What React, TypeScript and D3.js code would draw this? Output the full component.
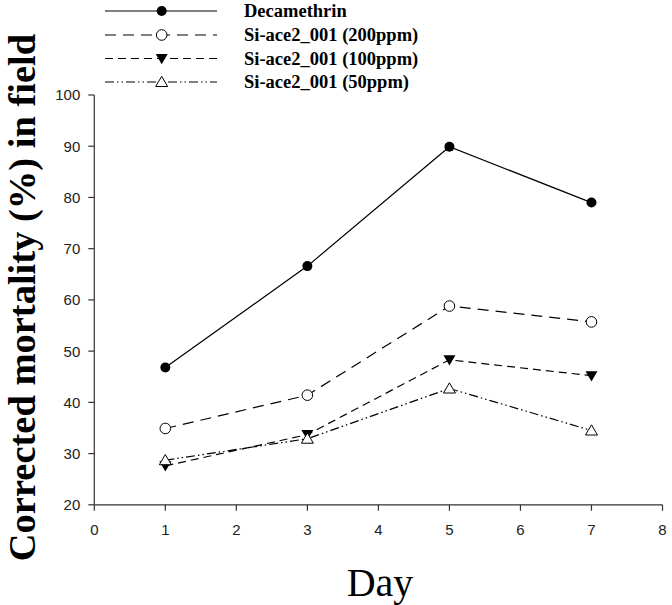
import React from "react";
import * as d3 from "d3";

const days = [1, 3, 5, 7];
const decamethrin = [46.8, 66.6, 89.9, 79.0];
const si200 = [34.9, 41.4, 58.8, 55.7];
const si100 = [27.6, 33.7, 48.3, 45.2];
const si50 = [28.7, 32.9, 42.7, 34.5];
const xTicks = [0, 1, 2, 3, 4, 5, 6, 7, 8];
const yTicks = [20, 30, 40, 50, 60, 70, 80, 90, 100];
const seriesNames = [
  "Decamethrin",
  "Si-ace2_001 (200ppm)",
  "Si-ace2_001 (100ppm)",
  "Si-ace2_001 (50ppm)",
];

type Marker = "fcircle" | "ocircle" | "ftridown" | "otriup";

export default function App() {
  const W = 672, H = 605;
  const x = d3.scaleLinear().domain([0, 8]).range([94.3, 662.5]);
  const y = d3.scaleLinear().domain([20, 100]).range([504.8, 95]);
  const series: { name: string; values: number[]; dash: string; marker: Marker }[] = [
    { name: seriesNames[0], values: decamethrin, dash: "none", marker: "fcircle" },
    { name: seriesNames[1], values: si200, dash: "11,7", marker: "ocircle" },
    { name: seriesNames[2], values: si100, dash: "8,5", marker: "ftridown" },
    { name: seriesNames[3], values: si50, dash: "9,3,1.5,3,1.5,3", marker: "otriup" },
  ];
  const line = d3.line<[number, number]>().x((d) => x(d[0])).y((d) => y(d[1]));

  const drawMarker = (m: Marker, cx: number, cy: number, key: string) => {
    if (m === "fcircle") return <circle key={key} cx={cx} cy={cy} r={5} fill="#000" />;
    if (m === "ocircle") return <circle key={key} cx={cx} cy={cy} r={5.3} fill="#fff" stroke="#000" strokeWidth={1} />;
    if (m === "ftridown") {
      const s = 6;
      return <path key={key} d={`M${cx - s},${cy - s * 0.75}L${cx + s},${cy - s * 0.75}L${cx},${cy + s * 0.95}Z`} fill="#000" />;
    }
    const s = 6;
    return <path key={key} d={`M${cx - s},${cy + s * 0.75}L${cx + s},${cy + s * 0.75}L${cx},${cy - s * 0.95}Z`} fill="#fff" stroke="#000" strokeWidth={1} />;
  };

  const legendY = [11, 35, 58.5, 82];
  const axisColor = "#333";

  return (
    <svg width={W} height={H} style={{ position: "absolute", left: 0, top: 0, background: "#fff" }}>
      <rect x={0} y={0} width={W} height={H} fill="#fff" />
      {/* axes */}
      <line x1={x(0)} x2={x(0)} y1={y(100)} y2={y(20)} stroke={axisColor} strokeWidth={1.2} />
      <line x1={x(0)} x2={x(8)} y1={y(20)} y2={y(20)} stroke={axisColor} strokeWidth={1.2} />
      {yTicks.map((t) => (
        <g key={"y" + t}>
          <line x1={x(0) - 6} x2={x(0)} y1={y(t)} y2={y(t)} stroke={axisColor} strokeWidth={1.2} />
          <text x={x(0) - 14} y={y(t)} dy="0.36em" textAnchor="end" fontFamily="Liberation Sans, Arial" fontSize={15} fill="#222">{t}</text>
        </g>
      ))}
      {xTicks.map((t) => (
        <g key={"x" + t}>
          <line x1={x(t)} x2={x(t)} y1={y(20)} y2={y(20) + 6} stroke={axisColor} strokeWidth={1.2} />
          <text x={x(t)} y={534.5} textAnchor="middle" fontFamily="Liberation Sans, Arial" fontSize={15} fill="#222">{t}</text>
        </g>
      ))}
      <text x={380} y={596} textAnchor="middle" fontFamily="Liberation Serif, Times New Roman" fontSize={40} fill="#000">Day</text>
      <text transform={`translate(35,297.5) rotate(-90)`} textAnchor="middle" fontFamily="Liberation Serif, Times New Roman" fontWeight="bold" fontSize={38.5} fill="#000">Corrected mortality (%) in field</text>

      {/* series */}
      {series.map((s) => (
        <g key={s.name}>
          <path d={line(days.map((d, j) => [d, s.values[j]] as [number, number])) || ""} fill="none" stroke="#000" strokeWidth={1.2} strokeDasharray={s.dash} />
          {days.map((d, j) => drawMarker(s.marker, x(d), y(s.values[j]), s.name + j))}
        </g>
      ))}

      {/* legend */}
      {series.map((s, i) => (
        <g key={"lg" + i}>
          <line x1={105} x2={217} y1={legendY[i]} y2={legendY[i]} stroke="#000" strokeWidth={1.2} strokeDasharray={s.dash} />
          {drawMarker(s.marker, 161.7, legendY[i], "lm" + i)}
          <text x={244} y={legendY[i]} dy="0.35em" fontFamily="Liberation Serif, Times New Roman" fontWeight="bold" fontSize={18.5} fill="#000">{s.name}</text>
        </g>
      ))}
    </svg>
  );
}
